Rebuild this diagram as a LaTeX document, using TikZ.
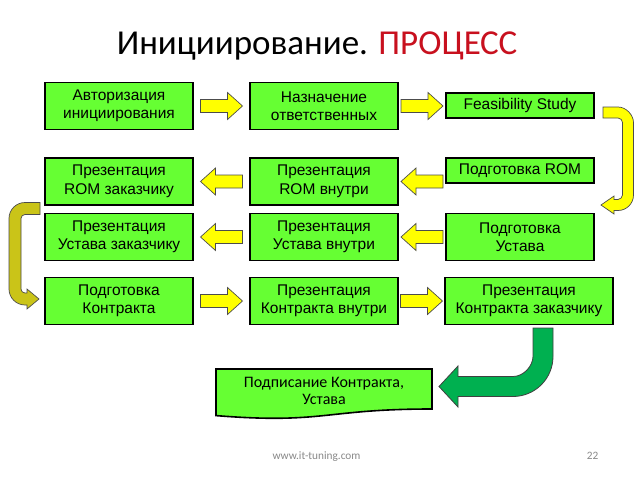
\documentclass[tikz,border=0pt]{standalone}
\usepackage{fontspec}
\setmainfont{Liberation Sans}
\newfontfamily\calibri{Carlito}
\usetikzlibrary{calc}
\definecolor{boxgreen}{RGB}{102,255,51}
\definecolor{arrowyellow}{RGB}{255,255,0}
\definecolor{arrowolive}{RGB}{202,196,24}
\definecolor{arrowgreen}{RGB}{0,176,80}
\definecolor{titlered}{RGB}{200,16,30}
\definecolor{footgray}{RGB}{137,137,137}
\begin{document}
\begin{tikzpicture}[x=1pt,y=-1pt,
  box/.style={draw=black,line width=1.6pt,fill=boxgreen,minimum width=148pt,minimum height=47pt,
    inner sep=0pt,align=center,font=\fontsize{15.5}{18.5}\selectfont},
  thinbox/.style={box,minimum height=25pt},
  blk/.style={fill=arrowyellow,draw=black!70,line width=0.7pt},
  rblk/.pic={\path[blk] (-21,-6.5) -- (6,-6.5) -- (6,-13.5) -- (21,0) -- (6,13.5) -- (6,6.5) -- (-21,6.5) -- cycle;},
  docshape/.style={draw=black,line width=1.6pt,fill=boxgreen}
]
\fill[white] (0,0) rectangle (638,479);
\useasboundingbox (0,0) rectangle (638,479);

% title
\node[anchor=base,inner sep=0pt] (title) at (317,54) {\calibri\fontsize{35}{40}\selectfont Инициирование. \textcolor{titlered}{ПРОЦЕСС}};

% row 1
\node[box] (A) at (119,106) {Авторизация\\инициирования};
\node[box] (B) at (324,106) {Назначение\\ответственных};
\node[thinbox] (C) at (520,105.5) {Feasibility Study};
% row 2
\node[box] (D) at (119,181.5) {Презентация\\ROM заказчику};
\node[box] (E) at (324,181.5) {Презентация\\ROM внутри};
\node[thinbox] (F) at (520,170.5) {Подготовка ROM};
% row 3
\node[box] (G) at (119,237) {Презентация\\Устава заказчику};
\node[box] (H) at (324,237) {Презентация\\Устава внутри};
\node[box] (I) at (520,237) {Подготовка\\Устава};
% row 4
\node[box] (J) at (119,301) {Подготовка\\Контракта};
\node[box] (K) at (324,301) {Презентация\\Контракта внутри};
\node[box,minimum width=168pt] (L) at (529,301) {Презентация\\Контракта заказчику};

% straight block arrows
\pic at ($(A.east)!.5!(B.west)$) {rblk};
\pic at ($(B.east)!.5!(B.east-|C.west)$) {rblk};
\pic[rotate=180] at ($(D.east)!.5!(E.west)$) {rblk};
\pic[rotate=180] at ($(E.east)!.5!(E.east-|F.west)$) {rblk};
\pic[rotate=180] at ($(G.east)!.5!(H.west)$) {rblk};
\pic[rotate=180] at ($(H.east)!.5!(I.west)$) {rblk};
\pic at ($(J.east)!.5!(K.west)$) {rblk};
\pic at ($(K.east)!.5!(L.west)$) {rblk};

% right curved yellow arrow (C -> I)
\path[blk] (603,107) -- (618,107)
  .. controls (626.56,107) and (633.5,115.44) .. (633.5,122.5)
  -- (633.5,195)
  .. controls (633.5,203.56) and (626.56,210.5) .. (618,210.5)
  -- (614,210.5) -- (614,214) -- (601,205) -- (614,196) -- (614,199.5) -- (618,199.5)
  .. controls (620.48,199.5) and (622.5,197.02) .. (622.5,195)
  -- (622.5,122.5)
  .. controls (622.5,120.02) and (620.48,118) .. (618,118)
  -- (603,118) -- cycle;

% left curved olive arrow (G -> J)
\path[blk,fill=arrowolive] (40,202.5) -- (25,202.5)
  .. controls (16.16,202.5) and (9,209.66) .. (9,218.5)
  -- (9,289)
  .. controls (9,297.84) and (16.16,305) .. (25,305)
  -- (27,305) -- (27,309) -- (39,299) -- (27,289) -- (27,293) -- (25,293)
  .. controls (22.79,293) and (21,291.21) .. (21,289)
  -- (21,218.5)
  .. controls (21,216.29) and (22.79,214.5) .. (25,214.5)
  -- (40,214.5) -- cycle;

% document shape
\path[docshape] (216,369) -- (432,369) -- (432,409)
  .. controls (324,409) and (324,424.3) .. (216,415.6) -- cycle;
\node[align=center,inner sep=0pt,font=\calibri\fontsize{16}{17}\selectfont] (M) at (324,391) {Подписание Контракта,\\Устава};

% green curved arrow (L -> M)
\path[fill=arrowgreen,draw=black!75,line width=0.8pt] (533,328) -- (553,328) -- (553,356.5)
  .. controls (553,378.6) and (535.1,396.5) .. (513,396.5)
  -- (458,396.5) -- (458,407) -- (439,386.5) -- (458,366) -- (458,376.5) -- (513,376.5)
  .. controls (524.04,376.5) and (533,365.46) .. (533,356.5)
  -- cycle;

% footer
\node[anchor=base,inner sep=0pt,text=footgray,font=\calibri\fontsize{11.3}{13}\selectfont] (url) at (316.5,459) {www.it-tuning.com};
\node[anchor=base,inner sep=0pt,text=footgray,font=\calibri\fontsize{11.3}{13}\selectfont] (page) at (592.5,459) {22};
\end{tikzpicture}
\end{document}
